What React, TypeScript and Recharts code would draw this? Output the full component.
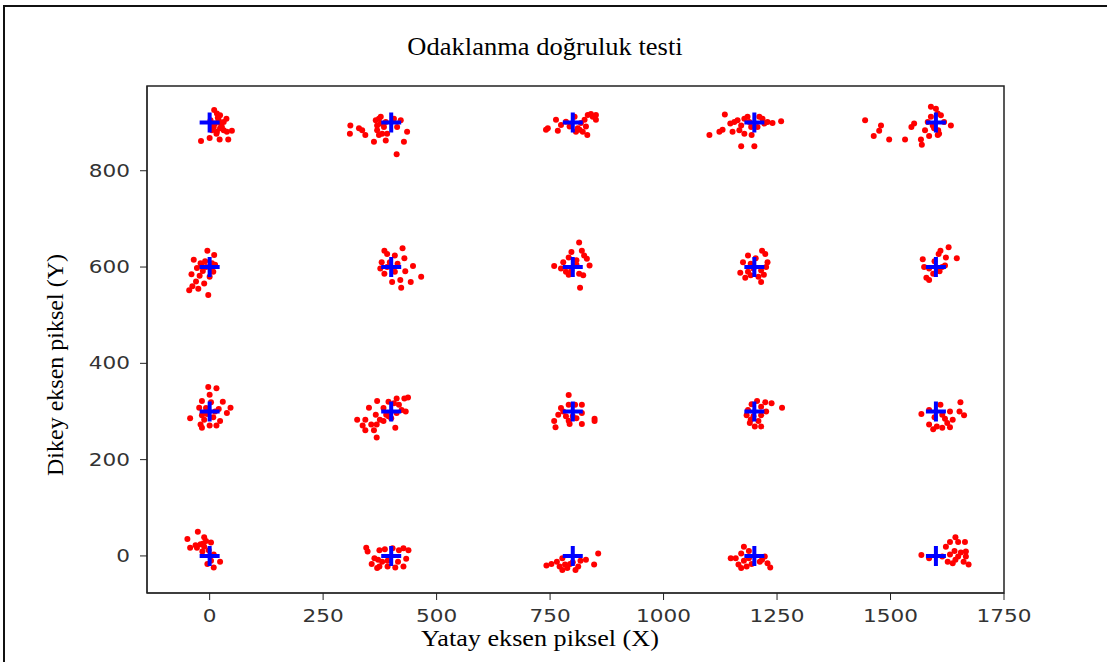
import { ScatterChart, Scatter, XAxis, YAxis, ReferenceArea } from 'recharts';

// hedef noktalari (mavi arti)
const targetX = [0, 400, 800, 1200, 1600];
const targetY = [0, 300, 600, 900];

const xTicks = [0, 250, 500, 750, 1000, 1250, 1500, 1750];
const yTicks = [0, 200, 400, 600, 800];

// olculen odak noktalari (kirmizi), her hedef icin ayri
const row900: [number, number][] = [
    [10, 926], [16, 919], [23, 915], [37, 908], [31, 901], [20, 905], [12, 898], [27, 891], [38, 881], [49, 883],
    [5, 884], [16, 881], [23, 888], [15, 877], [-19, 862], [0, 868], [22, 865], [41, 865], [9, 891], [31, 884],
    [2, 905], [8, 895], [18, 910], [25, 897],
    [310, 894], [329, 888], [336, 884], [309, 877], [343, 874], [362, 860], [369, 884], [366, 905], [373, 908], [377, 898],
    [384, 891], [391, 877], [388, 863], [406, 908], [421, 905], [413, 891], [435, 881], [428, 860], [412, 834], [373, 874],
    [380, 877], [369, 894], [377, 912], [388, 901],
    [745, 888], [741, 885], [763, 906], [767, 883], [774, 895], [785, 902], [793, 892], [804, 912], [811, 888], [818, 899],
    [826, 906], [833, 916], [840, 918], [851, 916], [851, 906], [829, 892], [822, 881], [832, 874], [815, 885], [807, 881],
    [844, 912],
    [1101, 874], [1123, 881], [1130, 885], [1135, 917], [1147, 898], [1152, 881], [1156, 901], [1163, 905], [1167, 884], [1171, 894],
    [1171, 851], [1178, 908], [1178, 877], [1185, 912], [1193, 891], [1194, 874], [1200, 851], [1211, 912], [1218, 908], [1222, 898],
    [1229, 901], [1240, 899], [1259, 903], [1207, 891], [1189, 901],
    [1444, 905], [1479, 894], [1475, 883], [1463, 872], [1497, 865], [1532, 865], [1546, 891], [1552, 898], [1567, 865], [1569, 854],
    [1576, 884], [1585, 872], [1589, 933], [1600, 929], [1604, 919], [1611, 915], [1589, 912], [1593, 894], [1596, 888], [1605, 884],
    [1607, 877], [1618, 901], [1633, 894], [1604, 874], [1582, 901],
];

const row600: [number, number][] = [
    [-5, 634], [10, 625], [-35, 615], [-20, 608], [5, 608], [-8, 600], [-28, 598], [-15, 592], [8, 590], [-40, 585],
    [-22, 582], [0, 580], [-30, 570], [-12, 566], [-38, 560], [-45, 552], [-25, 555], [-3, 542], [3, 597], [-18, 603],
    [12, 605], [-10, 612],
    [385, 634], [425, 639], [391, 627], [408, 624], [429, 618], [379, 610], [397, 610], [376, 597], [448, 602], [431, 591],
    [385, 586], [466, 580], [402, 569], [420, 573], [443, 569], [422, 557], [408, 590], [391, 600], [414, 607],
    [814, 651], [797, 631], [820, 634], [825, 624], [791, 620], [808, 614], [831, 617], [779, 610], [759, 602], [774, 597],
    [785, 590], [814, 586], [823, 583], [797, 593], [816, 557], [837, 603], [808, 605], [791, 584],
    [1217, 634], [1224, 627], [1186, 624], [1203, 618], [1175, 610], [1229, 610], [1192, 607], [1226, 600], [1169, 588], [1186, 590],
    [1215, 593], [1180, 578], [1209, 580], [1215, 569], [1192, 583], [1221, 584], [1198, 597],
    [1628, 641], [1610, 634], [1606, 627], [1646, 618], [1571, 616], [1597, 612], [1622, 620], [1620, 603], [1585, 597], [1608, 591],
    [1594, 586], [1579, 578], [1585, 573], [1614, 600], [1574, 600],
];

const row300: [number, number][] = [
    [-3, 351], [15, 348], [0, 335], [-17, 322], [3, 319], [29, 320], [-23, 308], [-8, 307], [20, 305], [46, 308],
    [38, 297], [-43, 286], [-17, 292], [-12, 283], [8, 288], [23, 280], [-20, 273], [0, 271], [15, 271], [-17, 266],
    [-6, 295], [12, 300],
    [412, 327], [429, 327], [437, 329], [369, 322], [394, 320], [406, 317], [417, 314], [351, 308], [383, 307], [423, 303],
    [432, 300], [412, 297], [366, 293], [389, 293], [394, 290], [325, 283], [343, 283], [375, 283], [383, 280], [337, 271],
    [356, 273], [368, 273], [409, 266], [343, 261], [362, 261], [368, 246], [400, 286],
    [791, 334], [791, 314], [805, 314], [820, 314], [774, 307], [779, 300], [820, 297], [768, 293], [785, 290], [800, 290],
    [759, 280], [791, 281], [820, 274], [848, 285], [848, 280], [793, 274], [762, 267], [808, 286],
    [1206, 322], [1224, 319], [1238, 317], [1194, 315], [1215, 310], [1261, 308], [1186, 303], [1226, 300], [1183, 292], [1198, 290],
    [1215, 292], [1192, 283], [1209, 280], [1201, 269], [1215, 269], [1190, 276],
    [1654, 319], [1610, 314], [1568, 295], [1585, 303], [1631, 300], [1652, 300], [1662, 292], [1614, 293], [1597, 288], [1620, 285],
    [1637, 283], [1585, 273], [1602, 269], [1614, 266], [1631, 267], [1594, 263], [1625, 276],
];

const row0: [number, number][] = [
    [-26, 50], [-12, 39], [-49, 35], [-8, 31], [3, 28], [-20, 24], [-28, 17], [-12, 19], [-43, 17], [-2, 12],
    [-16, 9], [9, 3], [23, -12], [3, -10], [-5, -17], [9, -24], [-31, 22], [-14, 26],
    [345, 17], [348, 9], [374, 12], [386, 14], [403, 16], [417, 12], [427, 16], [438, 12], [363, -5], [371, -8],
    [380, -12], [392, -10], [357, -17], [374, -22], [392, -22], [409, -24], [427, -22], [433, -6], [369, -25], [415, -12],
    [856, 5], [777, -5], [817, -10], [829, -8], [765, -12], [800, -13], [753, -17], [783, -18], [742, -20], [771, -22],
    [812, -22], [847, -18], [788, -25], [806, -29], [777, -29], [794, -17],
    [1177, 19], [1188, 10], [1171, 5], [1148, -5], [1159, -5], [1223, -1], [1177, -10], [1212, -12], [1165, -18], [1194, -17],
    [1229, -15], [1235, -24], [1183, -22], [1171, -25], [1217, -8], [1188, -5],
    [1643, 39], [1631, 29], [1649, 29], [1664, 29], [1622, 19], [1641, 10], [1655, 7], [1666, 9], [1631, 3], [1614, -1],
    [1666, -1], [1643, -8], [1626, -12], [1661, -12], [1672, -18], [1637, -15], [1585, -5], [1649, -1], [1568, 2],
];

const redData = [...row900, ...row600, ...row300, ...row0].map(([x, y]) => ({ x, y }));
const blueData = targetY.flatMap((y) => targetX.map((x) => ({ x, y })));

const tickFont = { fontFamily: 'DejaVu Sans', fontSize: 17, fill: '#333' };
const serif = '"Liberation Serif", "Times New Roman", serif';

const XTick = (p: any) => (
    <g transform={`translate(${p.x},${p.y})`}>
        <text transform="scale(1.27,1)" textAnchor="middle" dy="0.71em" {...tickFont}>{p.payload.value}</text>
    </g>
);

const YTick = (p: any) => (
    <g transform={`translate(${p.x},${p.y})`}>
        <text transform="scale(1.27,1)" textAnchor="end" dy="0.355em" {...tickFont}>{p.payload.value}</text>
    </g>
);

const RedDot = (p: any) => <circle cx={p.cx} cy={p.cy} r={3} fill="#ff0000" />;

const BluePlus = (p: any) => (
    <path
        d={`M${p.cx - 10},${p.cy}H${p.cx + 10}M${p.cx},${p.cy - 10}V${p.cy + 10}`}
        stroke="#0000ff"
        strokeWidth={4}
    />
);

export default function App() {
    return (
        <div style={{ position: 'absolute', left: 0, top: 0, width: 1107, height: 662, background: '#fff', overflow: 'hidden' }}>
            <div style={{ position: 'absolute', left: 3, top: 5, width: 1102, height: 700, borderLeft: '2px solid #111', borderTop: '2px solid #111', borderRight: '2px solid #111' }} />
            <div style={{ position: 'absolute', left: 545, top: 33, fontFamily: serif, fontSize: 25, lineHeight: '28px', whiteSpace: 'nowrap', transform: 'translateX(-50%) scaleX(1.06)' }}>
                Odaklanma doğruluk testi
            </div>
            <div style={{ position: 'absolute', left: 540, top: 624, fontFamily: serif, fontSize: 24, lineHeight: '28px', whiteSpace: 'nowrap', transform: 'translateX(-50%) scaleX(1.09)' }}>
                Yatay eksen piksel (X)
            </div>
            <div style={{ position: 'absolute', left: 55, top: 365, fontFamily: serif, fontSize: 24, lineHeight: '28px', whiteSpace: 'nowrap', transform: 'translate(-50%,-50%) rotate(-90deg)' }}>
                Dikey eksen piksel (Y)
            </div>
            <ScatterChart width={1107} height={662} margin={{ top: 86, right: 103, bottom: 29, left: 0 }}>
                <XAxis
                    type="number"
                    dataKey="x"
                    domain={[-138, 1750]}
                    ticks={xTicks}
                    allowDataOverflow
                    height={40}
                    tickSize={7}
                    tickMargin={10}
                    stroke="#222"
                    tick={<XTick />}
                />
                <YAxis
                    type="number"
                    dataKey="y"
                    domain={[-77, 976]}
                    ticks={yTicks}
                    allowDataOverflow
                    width={147}
                    tickSize={7}
                    tickMargin={10}
                    stroke="#222"
                    tick={<YTick />}
                />
                <ReferenceArea x1={-138} x2={1750} y1={-77} y2={976} fill="none" stroke="#222" strokeWidth={1.5} />
                <Scatter data={redData} shape={<RedDot />} isAnimationActive={false} />
                <Scatter data={blueData} shape={<BluePlus />} isAnimationActive={false} />
            </ScatterChart>
        </div>
    );
}
